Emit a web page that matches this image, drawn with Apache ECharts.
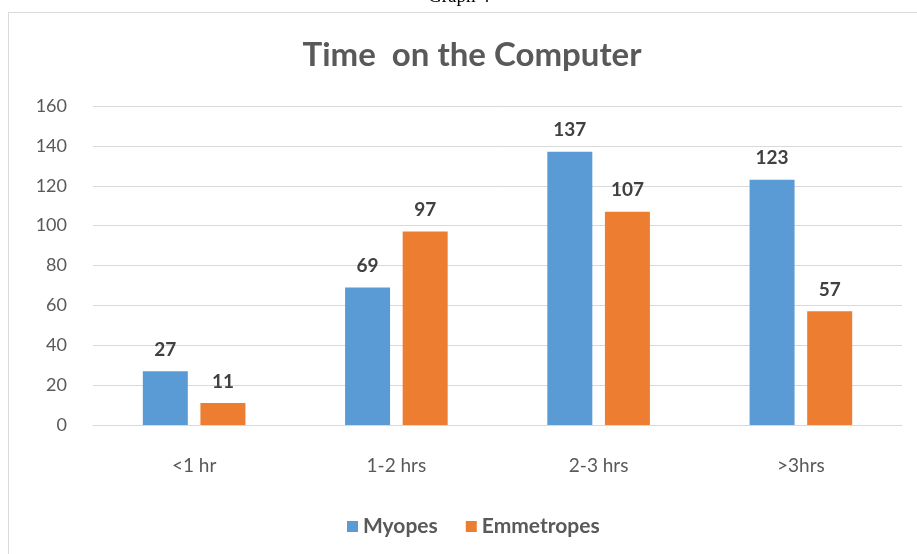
<!DOCTYPE html>
<html>
<head>
<meta charset="utf-8">
<script src="https://cdn.jsdelivr.net/npm/echarts@6/dist/echarts.min.js"></script>
<style>
  html, body { margin: 0; padding: 0; background: #fff; }
  #chart { width: 917px; height: 554px; }
</style>
</head>
<body>
<div id="chart"></div>
<script>
// data
const categories = ['<1 hr', '1-2 hrs', '2-3 hrs', '>3hrs'];
const myopes = [27, 69, 137, 123];
const emmetropes = [11, 97, 107, 57];
const seriesNames = ['Myopes', 'Emmetropes'];

const chart = echarts.init(document.getElementById('chart'));

const labelStyle = {
    show: true,
    position: 'top',
    distance: 12,
    fontFamily: 'Lato, sans-serif',
    fontWeight: 'bold',
    fontSize: 19,
    color: '#404040'
};

chart.setOption({
    animation: false,
    color: ['#5B9BD5', '#ED7D31'],
    title: {
        text: 'Time  on the Computer',
        left: 467,
        top: 34,
        textAlign: 'center',
        textStyle: {
            fontFamily: 'Lato, sans-serif',
            fontWeight: 'bold',
            fontSize: 33,
            color: '#595959'
        }
    },
    legend: {
        data: seriesNames,
        bottom: 12,
        left: 342,
        itemWidth: 11,
        itemHeight: 11,
        itemGap: 28,
        icon: 'rect',
        textStyle: {
            fontFamily: 'Lato, sans-serif',
            fontWeight: 'bold',
            fontSize: 21,
            color: '#595959'
        }
    },
    grid: {
        left: 93,
        right: 15,
        top: 106,
        bottom: 129,
        containLabel: false
    },
    xAxis: {
        type: 'category',
        data: categories,
        axisTick: { show: false },
        axisLine: { lineStyle: { color: '#d9d9d9', width: 1 } },
        axisLabel: {
            margin: 31,
            fontFamily: 'Lato, sans-serif',
            fontSize: 19,
            color: '#595959'
        }
    },
    yAxis: {
        type: 'value',
        min: 0,
        max: 160,
        interval: 20,
        axisLine: { show: false },
        axisTick: { show: false },
        splitLine: { lineStyle: { color: '#d9d9d9', width: 1 } },
        axisLabel: {
            margin: 26,
            fontFamily: 'Lato, sans-serif',
            fontSize: 18,
            color: '#595959'
        }
    },
    series: [
        {
            name: seriesNames[0],
            type: 'bar',
            data: myopes,
            barWidth: 45,
            barGap: '28%',
            label: labelStyle
        },
        {
            name: seriesNames[1],
            type: 'bar',
            data: emmetropes,
            barWidth: 45,
            label: labelStyle
        }
    ],
    graphic: [
        {
            type: 'line',
            shape: { x1: 8, y1: 12.5, x2: 917, y2: 12.5 },
            style: { stroke: '#d9d9d9', lineWidth: 1 }
        },
        {
            type: 'line',
            shape: { x1: 8.5, y1: 12, x2: 8.5, y2: 554 },
            style: { stroke: '#d9d9d9', lineWidth: 1 }
        },
        {
            type: 'text',
            left: 428,
            top: -12,
            style: {
                text: 'Graph 4',
                fontFamily: '"Liberation Serif", serif',
                fontSize: 19,
                fill: '#000'
            }
        }
    ]
});
</script>
</body>
</html>
